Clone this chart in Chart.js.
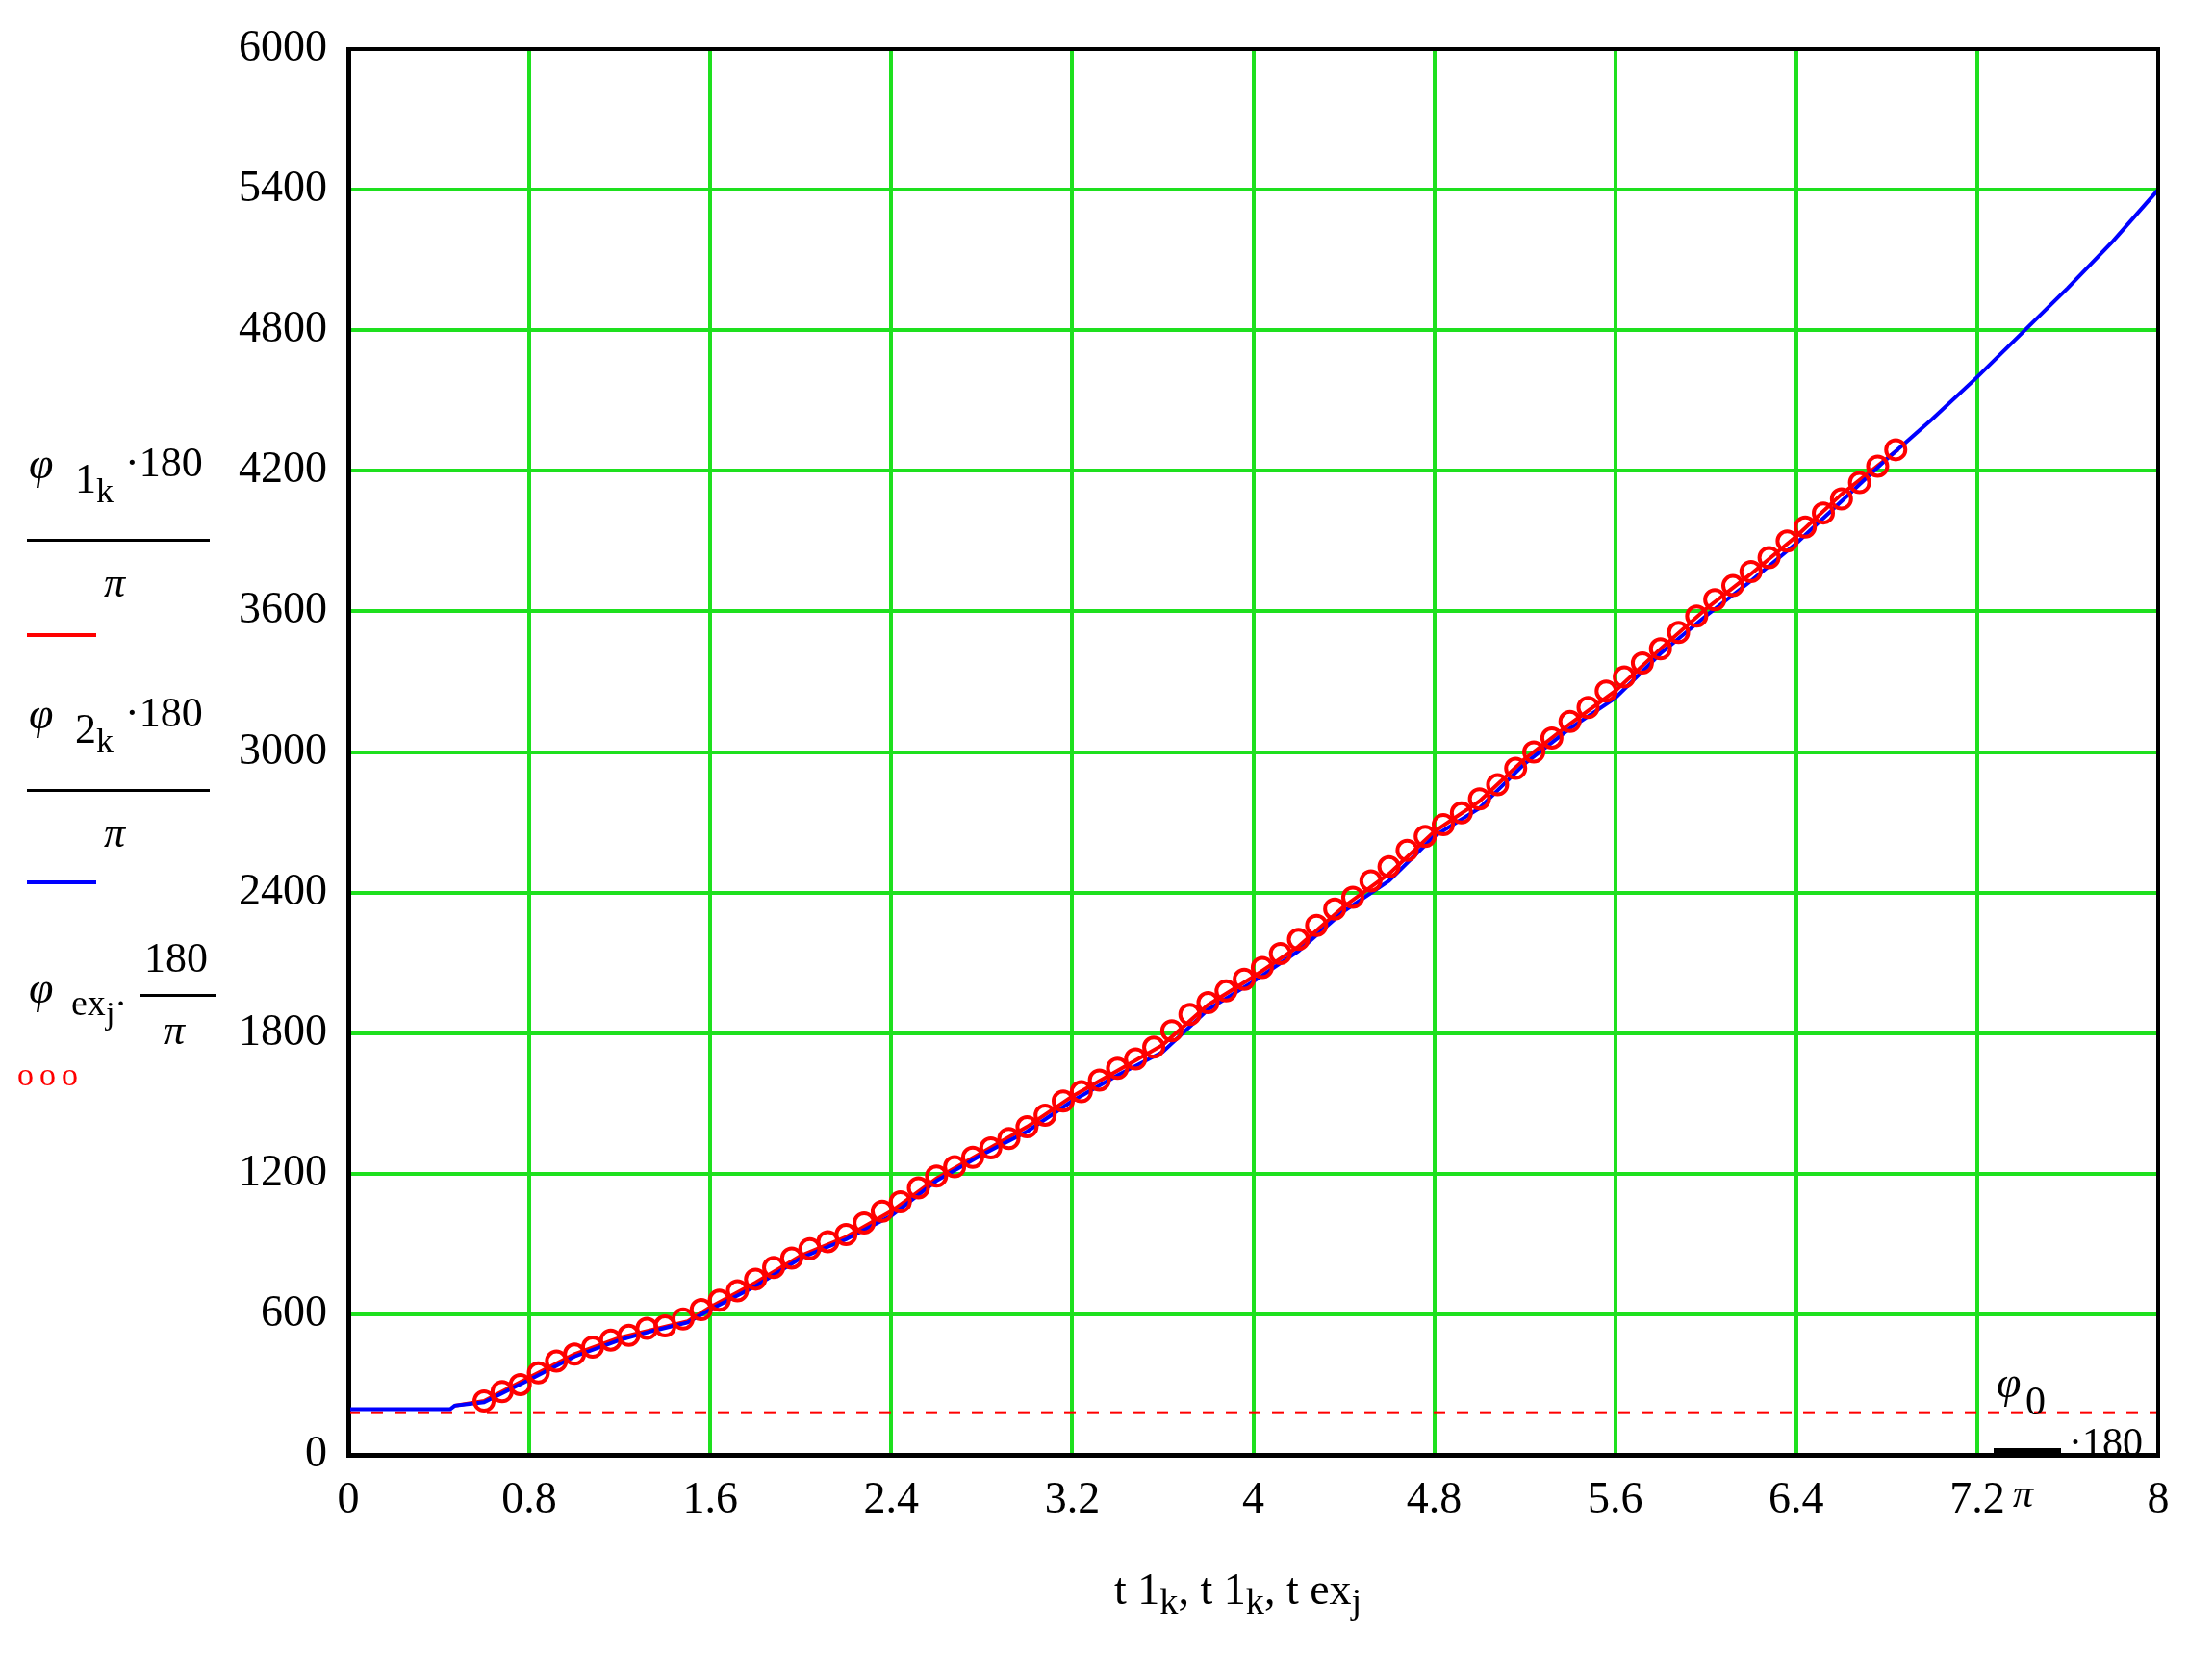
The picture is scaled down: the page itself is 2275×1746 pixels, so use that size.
<!DOCTYPE html>
<html><head><meta charset="utf-8">
<script src="https://cdn.jsdelivr.net/npm/chart.js@4"></script>
<style>
html,body{margin:0;padding:0;background:#fff;}
#wrap{position:relative;width:2275px;height:1746px;}
.t{position:absolute;font-family:"Liberation Serif",serif;color:#000;white-space:nowrap;}
.bar{position:absolute;height:3px;background:#000;}
</style></head><body>
<div id="wrap"><canvas id="c" width="2275" height="1746"></canvas>
<div class="t" style="left:30px;top:455px;font-size:46px;font-style:italic">φ</div>
<div class="t" style="left:78px;top:472px;font-size:44px">1<sub style="font-size:36px">k</sub></div>
<div class="t" style="left:130px;top:455px;font-size:44px">·180</div>
<div class="bar" style="left:28px;top:560px;width:190px"></div>
<div class="t" style="left:108px;top:580px;font-size:44px;font-style:italic">π</div>
<div style="position:absolute;left:28px;top:658px;width:72px;height:4px;background:#f00"></div>
<div class="t" style="left:30px;top:715px;font-size:46px;font-style:italic">φ</div>
<div class="t" style="left:78px;top:732px;font-size:44px">2<sub style="font-size:36px">k</sub></div>
<div class="t" style="left:130px;top:715px;font-size:44px">·180</div>
<div class="bar" style="left:28px;top:820px;width:190px"></div>
<div class="t" style="left:108px;top:840px;font-size:44px;font-style:italic">π</div>
<div style="position:absolute;left:28px;top:915px;width:72px;height:4px;background:#00f"></div>
<div class="t" style="left:30px;top:1000px;font-size:46px;font-style:italic">φ</div>
<div class="t" style="left:74px;top:1020px;font-size:38px">ex<sub style="font-size:34px">j</sub>·</div>
<div class="t" style="left:150px;top:970px;font-size:44px">180</div>
<div class="bar" style="left:145px;top:1033px;width:80px"></div>
<div class="t" style="left:170px;top:1045px;font-size:44px;font-style:italic">π</div>
<div class="t" style="left:18px;top:1098px;font-size:34px;color:#f00;letter-spacing:6px">ooo</div>
<div class="t" style="left:2075px;top:1410px;font-size:46px;font-style:italic">φ</div>
<div class="t" style="left:2105px;top:1432px;font-size:42px">0</div>
<div class="bar" style="left:2072px;top:1505px;width:70px;height:6px"></div>
<div class="t" style="left:2150px;top:1475px;font-size:42px">·180</div>
<div class="t" style="left:2092px;top:1528px;font-size:42px;font-style:italic">π</div>
<div class="t" style="left:1158px;top:1625px;font-size:46px">t <span>1<sub>k</sub></span>, t <span>1<sub>k</sub></span>, t <span>ex<sub>j</sub></span></div>
</div>
<script>
const lineT = [0,0.45,0.47,0.6,0.8,1.0,1.2,1.35,1.5,1.6,1.8,2.0,2.2,2.4,2.6,2.8,3.0,3.2,3.4,3.6,3.8,4.0,4.2,4.4,4.6,4.8,5.0,5.2,5.4,5.6,5.8,6.0,6.2,6.4,6.6,6.8,7.0,7.2,7.4,7.6,7.8,8.0];
const phi2 = [195,195,210,225,320,420,490,530,565,620,720,840,920,1020,1170,1280,1380,1510,1620,1720,1900,2020,2150,2320,2450,2640,2760,2950,3100,3230,3420,3580,3730,3890,4070,4250,4420,4600,4790,4980,5180,5400];
const red1T = [0.47,0.6,0.8,1.0,1.2,1.35,1.5,1.6,1.8,2.0,2.2,2.4,2.6,2.8,3.0,3.2,3.4,3.6,3.8,4.0,4.2,4.4,4.6,4.8,5.0,5.2,5.4,5.6,5.8,6.0,6.2,6.4,6.6,6.85];
const phi1 = [210,230,330,430,500,535,570,630,735,850,930,1040,1180,1290,1400,1530,1640,1750,1920,2040,2170,2340,2480,2660,2790,2970,3120,3260,3440,3610,3760,3920,4100,4290];
const expT = [0.60,0.68,0.76,0.84,0.92,1.00,1.08,1.16,1.24,1.32,1.40,1.48,1.56,1.64,1.72,1.80,1.88,1.96,2.04,2.12,2.20,2.28,2.36,2.44,2.52,2.60,2.68,2.76,2.84,2.92,3.00,3.08,3.16,3.24,3.32,3.40,3.48,3.56,3.64,3.72,3.80,3.88,3.96,4.04,4.12,4.20,4.28,4.36,4.44,4.52,4.60,4.68,4.76,4.84,4.92,5.00,5.08,5.16,5.24,5.32,5.40,5.48,5.56,5.64,5.72,5.80,5.88,5.96,6.04,6.12,6.20,6.28,6.36,6.44,6.52,6.60,6.68,6.76,6.84];
const phiEx = [230,270,300,350,400,430,460,490,510,540,550,580,620,660,700,750,800,840,880,910,940,990,1040,1080,1140,1190,1230,1270,1310,1350,1400,1450,1510,1550,1600,1650,1690,1740,1810,1880,1930,1980,2030,2080,2140,2200,2260,2330,2380,2450,2510,2580,2640,2690,2740,2800,2860,2930,3000,3060,3130,3190,3260,3320,3380,3440,3510,3580,3650,3710,3770,3830,3900,3960,4020,4080,4150,4220,4290];
const phi0deg = 180;
const xTicks = [0,0.8,1.6,2.4,3.2,4,4.8,5.6,6.4,7.2,8];
const yTicks = [0,600,1200,1800,2400,3000,3600,4200,4800,5400,6000];
const pts=(xs,ys)=>xs.map((x,i)=>({x,y:ys[i]}));
const tickFont={family:"Liberation Serif",size:46};
new Chart(document.getElementById('c'),{
 type:'scatter',
 data:{datasets:[
  {data:pts(expT,phiEx),showLine:false,borderColor:'#f00',backgroundColor:'rgba(0,0,0,0)',borderWidth:4,pointRadius:10},
  {data:pts(lineT,phi2),showLine:true,borderColor:'#00f',borderWidth:4,pointRadius:0},
  {data:pts(red1T,phi1),showLine:true,borderColor:'#f00',borderWidth:4,pointRadius:0},
  {data:[{x:0,y:phi0deg},{x:8,y:phi0deg}],showLine:true,borderColor:'#f00',borderWidth:3,borderDash:[12,12],pointRadius:0}
 ]},
 options:{responsive:false,animation:false,
  layout:{padding:{top:51,right:32,left:0,bottom:0}},
  plugins:{legend:{display:false},tooltip:{enabled:false}},
  scales:{
   x:{type:'linear',min:0,max:8,afterBuildTicks:a=>{a.ticks=xTicks.map(v=>({value:v}));},
     afterFit:a=>{a.height=234;},
     grid:{color:'#1ee01e',lineWidth:4,drawTicks:false},border:{color:'#000',width:5},
     ticks:{color:'#000',font:tickFont,padding:20,maxRotation:0,callback:v=>String(Math.round(v*10)/10)}},
   y:{type:'linear',min:0,max:6000,afterBuildTicks:a=>{a.ticks=yTicks.map(v=>({value:v}));},
     afterFit:a=>{a.width=362;},
     grid:{color:'#1ee01e',lineWidth:4,drawTicks:false},border:{color:'#000',width:5},
     ticks:{color:'#000',font:tickFont,padding:22,callback:v=>String(v)}}
  }},
 plugins:[{id:'frame',afterDraw(c){const a=c.chartArea,x=c.ctx;x.save();x.strokeStyle='#000';x.lineWidth=4;x.strokeRect(a.left,a.top,a.right-a.left,a.bottom-a.top);x.restore();}}]
});
</script></body></html>
